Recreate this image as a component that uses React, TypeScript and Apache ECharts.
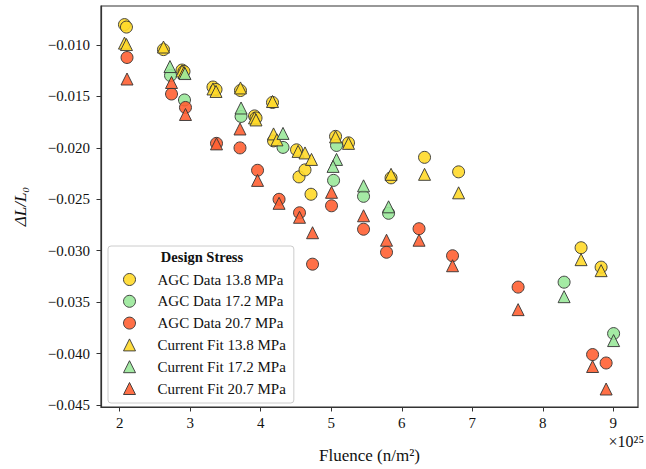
import React, { useEffect, useRef } from 'react';
import * as echarts from 'echarts';

// Fluence in units of 1e25 n/m^2
const agc138X = [2.068, 2.096, 2.621, 2.884, 2.912, 3.323, 3.366, 3.713, 3.912, 3.933, 4.167, 4.182, 4.508, 4.543, 4.628, 4.713, 5.061, 5.245, 5.848, 6.323, 6.806, 8.543, 8.827];
const agc138Y = [-0.00801, -0.00825, -0.01044, -0.01243, -0.01257, -0.01408, -0.01432, -0.01442, -0.01689, -0.01709, -0.01558, -0.01932, -0.02019, -0.02282, -0.02214, -0.02451, -0.01888, -0.01951, -0.02291, -0.02092, -0.02233, -0.02971, -0.0316];

const fit138X = [2.068, 2.096, 2.621, 2.884, 2.912, 3.323, 3.366, 3.713, 3.912, 3.933, 4.167, 4.182, 4.23, 4.53, 4.628, 4.72, 5.061, 5.245, 5.848, 6.323, 6.806, 8.543, 8.827];
const fit138Y = [-0.00981, -0.00995, -0.01019, -0.01252, -0.01267, -0.01427, -0.01451, -0.01417, -0.01709, -0.01728, -0.01549, -0.01864, -0.01922, -0.02034, -0.02049, -0.02112, -0.01893, -0.01956, -0.02257, -0.02257, -0.02437, -0.03087, -0.03194];

const agc172X = [2.721, 2.919, 3.721, 4.316, 5.075, 5.033, 5.458, 5.813, 8.302, 9.004];
const agc172Y = [-0.01296, -0.01534, -0.01694, -0.01995, -0.01976, -0.02316, -0.02471, -0.02636, -0.03306, -0.03806];

const fit172X = [2.713, 2.926, 3.721, 4.316, 5.075, 5.026, 5.458, 5.813, 8.302, 9.004];
const fit172Y = [-0.01209, -0.01277, -0.01612, -0.01859, -0.02112, -0.0218, -0.02369, -0.02573, -0.03447, -0.03874];

const agc207X = [2.104, 2.735, 2.933, 3.373, 3.706, 3.955, 4.26, 4.55, 4.735, 5.004, 5.458, 5.784, 6.245, 6.72, 7.65, 8.706, 8.898];
const agc207Y = [-0.01121, -0.01476, -0.01607, -0.01956, -0.02, -0.02218, -0.025, -0.02631, -0.03131, -0.02563, -0.02791, -0.03015, -0.02786, -0.03049, -0.03354, -0.0401, -0.04092];

const fit207X = [2.104, 2.735, 2.933, 3.373, 3.706, 3.955, 4.26, 4.55, 4.735, 5.004, 5.458, 5.784, 6.245, 6.72, 7.65, 8.706, 8.898];
const fit207Y = [-0.0133, -0.01364, -0.01675, -0.01961, -0.01816, -0.02316, -0.02539, -0.02675, -0.02825, -0.02432, -0.0266, -0.02898, -0.02898, -0.03146, -0.03573, -0.04126, -0.04345];

const xTicks = [2, 3, 4, 5, 6, 7, 8, 9];
const yTicks = [-0.045, -0.04, -0.035, -0.03, -0.025, -0.02, -0.015, -0.01];

const seriesNames = [
  'AGC Data 13.8 MPa',
  'AGC Data 17.2 MPa',
  'AGC Data 20.7 MPa',
  'Current Fit 13.8 MPa',
  'Current Fit 17.2 MPa',
  'Current Fit 20.7 MPa',
];

const YELLOW = '#FFD92A';
const GREEN = '#9AE89A';
const ORANGE = '#FF6133';
const FONT = '"Liberation Serif", "DejaVu Serif", serif';

const zip = (xs: number[], ys: number[]) => xs.map((x, i) => [x, ys[i]]);

export default function App() {
  const ref = useRef<HTMLDivElement>(null);

  useEffect(() => {
    document.body.style.margin = '0';
    if (!ref.current) return;
    const chart = echarts.init(ref.current, undefined, { renderer: 'svg' });

    const mk = (name: string, xs: number[], ys: number[], symbol: string, color: string) => ({
      name,
      type: 'scatter',
      data: zip(xs, ys),
      symbol,
      symbolSize: 12,
      itemStyle: { color, borderColor: '#333333', borderWidth: 1, opacity: 0.9 },
      emphasis: { disabled: true },
    });

    const fmtY = (v: number) => (v < 0 ? '\u2212' : '') + Math.abs(v).toFixed(3);

    chart.setOption({
      animation: false,
      backgroundColor: '#ffffff',
      grid: {
        left: 101,
        right: 8,
        top: 6,
        bottom: 62,
        show: true,
        borderColor: '#333333',
        borderWidth: 1.2,
        backgroundColor: 'transparent',
      },
      xAxis: {
        type: 'value',
        min: 1.735,
        max: 9.35,
        name: 'Fluence (n/m\u00B2)',
        nameLocation: 'middle',
        nameGap: 40,
        nameTextStyle: { fontFamily: FONT, fontSize: 17, color: '#111' },
        axisLine: { show: true, lineStyle: { color: '#333333', width: 1.2 } },
        axisTick: { show: true, length: 4.5, lineStyle: { color: '#333333', width: 1 }, customValues: xTicks },
        axisLabel: {
          customValues: xTicks,
          margin: 8,
          fontFamily: FONT,
          fontSize: 15,
          color: '#111',
          formatter: (v: number) => String(v),
        },
        splitLine: { show: false },
      },
      yAxis: {
        type: 'value',
        min: -0.0452,
        max: -0.0062,
        name: '\u0394L/L\u2080',
        nameLocation: 'middle',
        nameGap: 72,
        nameRotate: 90,
        nameTextStyle: { fontFamily: FONT, fontSize: 17, fontStyle: 'italic', color: '#111' },
        axisLine: { show: true, lineStyle: { color: '#333333', width: 1.2 } },
        axisTick: { show: true, length: 4.5, lineStyle: { color: '#333333', width: 1 }, customValues: yTicks },
        axisLabel: {
          customValues: yTicks,
          margin: 11,
          fontFamily: FONT,
          fontSize: 15,
          color: '#111',
          formatter: fmtY,
        },
        splitLine: { show: false },
      },
      legend: {
        orient: 'vertical',
        left: 108,
        top: 246,
        padding: [26, 8, 7, 15],
        itemWidth: 12,
        itemHeight: 12,
        itemGap: 6.8,
        itemStyle: { borderWidth: 1, borderColor: '#333333' },
        backgroundColor: 'rgba(255,255,255,0.85)',
        borderColor: '#cccccc',
        borderWidth: 1,
        borderRadius: 3,
        textStyle: { fontFamily: FONT, fontSize: 15, color: '#111', padding: [0, 0, 0, 17], lineHeight: 14 },
        data: seriesNames,
      },
      graphic: [
        {
          type: 'text',
          x: 202,
          y: 257,
          z: 100,
          style: {
            text: 'Design Stress',
            fontFamily: FONT,
            fontSize: 14.5,
            fontWeight: 'bold',
            fill: '#111',
            align: 'center',
            verticalAlign: 'middle',
          },
        },
        {
          type: 'text',
          x: 644,
          y: 441,
          z: 100,
          style: {
            text: '\u00D710\u00B2\u2075',
            fontFamily: FONT,
            fontSize: 16,
            fill: '#111',
            align: 'right',
            verticalAlign: 'middle',
          },
        },
      ],
      series: [
        mk(seriesNames[0], agc138X, agc138Y, 'circle', YELLOW),
        mk(seriesNames[1], agc172X, agc172Y, 'circle', GREEN),
        mk(seriesNames[2], agc207X, agc207Y, 'circle', ORANGE),
        mk(seriesNames[3], fit138X, fit138Y, 'triangle', YELLOW),
        mk(seriesNames[4], fit172X, fit172Y, 'triangle', GREEN),
        mk(seriesNames[5], fit207X, fit207Y, 'triangle', ORANGE),
      ],
    });

    return () => chart.dispose();
  }, []);

  return <div ref={ref} style={{ width: 646, height: 469 }} />;
}
